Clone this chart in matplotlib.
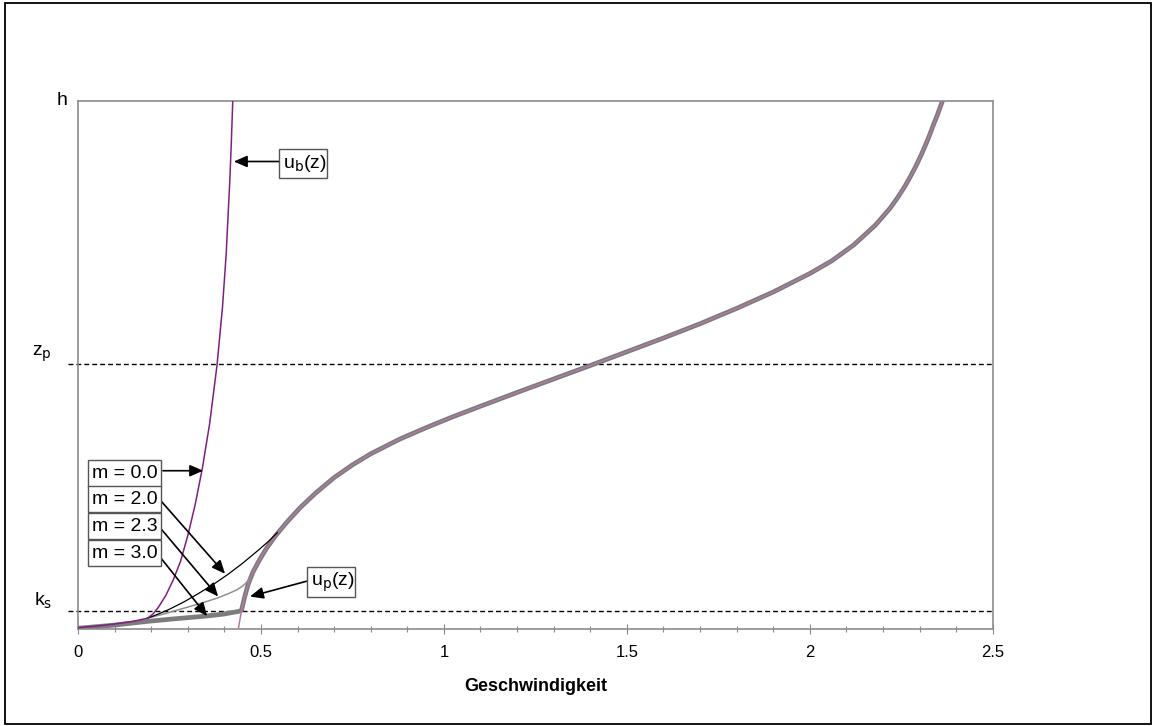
import numpy as np
import matplotlib
matplotlib.use("Agg")
import matplotlib.pyplot as plt
from matplotlib.patches import Rectangle
from matplotlib.transforms import blended_transform_factory

plt.rcParams['font.family'] = ['Liberation Sans', 'DejaVu Sans']

# profile values (z normalised to h = 1)
ub_x = [0.0, 0.05, 0.10, 0.15, 0.19, 0.205, 0.22, 0.24, 0.26, 0.28, 0.30, 0.32, 0.34,
        0.36, 0.38, 0.395, 0.40, 0.405, 0.41, 0.415, 0.419, 0.423]
ub_z = [0.003, 0.006, 0.010, 0.015, 0.021, 0.029, 0.042, 0.064, 0.093, 0.128, 0.177,
        0.235, 0.305, 0.39, 0.50, 0.61, 0.66, 0.71, 0.78, 0.85, 0.92, 1.0]

m20_x = [0.19, 0.22, 0.25, 0.29, 0.33, 0.37, 0.41, 0.45, 0.49, 0.52, 0.545]
m20_z = [0.021, 0.029, 0.038, 0.052, 0.068, 0.085, 0.104, 0.125, 0.148, 0.166, 0.183]

m23_x = [0.19, 0.24, 0.29, 0.34, 0.38, 0.41, 0.435, 0.45, 0.46, 0.468]
m23_z = [0.021, 0.030, 0.040, 0.050, 0.059, 0.067, 0.075, 0.082, 0.088, 0.095]

m30_x = [0.0, 0.10, 0.19, 0.25, 0.30, 0.35, 0.40, 0.44]
m30_z = [0.002, 0.008, 0.015, 0.019, 0.022, 0.025, 0.029, 0.034]

up_x = [0.447, 0.455, 0.465, 0.478, 0.495, 0.515, 0.54, 0.57, 0.607, 0.65, 0.70, 0.75,
        0.80, 0.88, 0.95, 1.017, 1.10, 1.20, 1.30, 1.40, 1.50, 1.60, 1.70, 1.80, 1.90,
        2.00, 2.06, 2.12, 2.18, 2.22, 2.24, 2.26, 2.275, 2.29, 2.305, 2.32, 2.33, 2.34,
        2.348, 2.355, 2.363]
up_z = [0.036, 0.06, 0.085, 0.108, 0.13, 0.153, 0.177, 0.202, 0.230, 0.258, 0.287, 0.311,
        0.332, 0.360, 0.381, 0.400, 0.422, 0.448, 0.4735, 0.499, 0.525, 0.551, 0.578, 0.607,
        0.638, 0.673, 0.697, 0.727, 0.765, 0.797, 0.8165, 0.838, 0.8565, 0.876, 0.898,
        0.922, 0.9395, 0.958, 0.9715, 0.985, 1.0]
up_foot = (0.438, 0.0)

z_p = 0.501
k_s = 0.034
y_labels = ['h', 'z$_\\mathrm{p}$', 'k$_\\mathrm{s}$']
x_ticks = [0, 0.5, 1, 1.5, 2, 2.5]
x_ticklabels = ['0', '0.5', '1', '1.5', '2', '2.5']
m_labels = ['m = 0.0', 'm = 2.0', 'm = 2.3', 'm = 3.0']

W, H = 1153, 726
fig = plt.figure(figsize=(W / 100, H / 100), dpi=100)
ax = fig.add_axes([78 / W, 1 - 629.3 / H, 914.7 / W, 528.6 / H])

purple = '#7e1f82'
mauve = '#b07ba3'
grey = '#7c7c7c'

# thick grey: m = 3.0 foot + u_p(z)
ax.plot(m30_x + up_x, m30_z + up_z, color=grey, lw=3.4, solid_capstyle='butt', zorder=2)
ax.plot([up_foot[0]] + up_x, [up_foot[1]] + up_z, color=mauve, lw=1.1, zorder=3)
ax.plot(m23_x, m23_z, color='#8f8f8f', lw=1.1, zorder=3)
ax.plot(m20_x, m20_z, color='black', lw=0.9, zorder=3)
ax.plot(ub_x, ub_z, color=purple, lw=1.1, zorder=4)

# reference heights
for zz in [z_p, k_s]:
    ax.axhline(zz, xmin=-0.011, xmax=1, color='black', lw=1.0,
               linestyle=(0, (3.5, 2.2)), clip_on=False, zorder=1)

ax.set_xlim(0, 2.5)
ax.set_ylim(0, 1)
ax.set_xticks(x_ticks)
ax.set_xticklabels(x_ticklabels, fontsize=12)
ax.set_xticks(np.arange(0, 2.51, 0.1), minor=True)
ax.tick_params(axis='x', which='major', direction='inout', length=7, width=0.8,
               color='#8c8c8c', pad=8)
ax.tick_params(axis='x', which='minor', direction='inout', length=5, width=0.8,
               color='#8c8c8c')
ax.set_yticks([])
for s in ax.spines.values():
    s.set_color('#8c8c8c')
    s.set_linewidth(1.2)
ax.set_xlabel('Geschwindigkeit', fontsize=13, fontweight='bold', labelpad=13)

trans = blended_transform_factory(fig.transFigure, ax.transData)
ax.text(68 / W, 1.0, y_labels[0], transform=trans, ha='right', va='center', fontsize=14)
ax.text(52 / W, z_p, y_labels[1], transform=trans, ha='right', va='bottom', fontsize=14)
ax.text(52 / W, k_s, y_labels[2], transform=trans, ha='right', va='bottom', fontsize=14)

# boxed labels with arrows
arrow = dict(arrowstyle='-|>,head_length=0.8,head_width=0.35', color='black', lw=1.2,
             shrinkA=0, shrinkB=0)
box_top = [0.320, 0.271, 0.220, 0.169]
box_h = 0.050
starts = [(0.232, 0.300), (0.224, 0.245), (0.227, 0.190), (0.224, 0.137)]
tips = [(0.342, 0.300), (0.402, 0.105), (0.383, 0.062), (0.353, 0.025)]
for lab, bt, st, tp in zip(m_labels, box_top, starts, tips):
    ax.add_patch(Rectangle((0.027, bt - box_h), 0.20, box_h, fc='white', ec='#555555',
                           lw=1.0, zorder=6))
    ax.text(0.038, bt - box_h / 2, lab, ha='left', va='center', fontsize=14, zorder=7)
    ax.annotate('', xy=tp, xytext=st, arrowprops=arrow, zorder=5)

ax.add_patch(Rectangle((0.549, 0.853), 0.132, 0.056, fc='white', ec='#555555', lw=1.0,
                       zorder=6))
ax.text(0.560, 0.881, 'u$_\\mathrm{b}$(z)', ha='left', va='center', fontsize=14, zorder=7)
ax.annotate('', xy=(0.426, 0.885), xytext=(0.549, 0.885), arrowprops=arrow, zorder=5)

ax.add_patch(Rectangle((0.625, 0.062), 0.132, 0.055, fc='white', ec='#555555', lw=1.0,
                       zorder=6))
ax.text(0.636, 0.0895, 'u$_\\mathrm{p}$(z)', ha='left', va='center', fontsize=14, zorder=7)
ax.annotate('', xy=(0.470, 0.062), xytext=(0.625, 0.091), arrowprops=arrow, zorder=5)

fig.patches.append(Rectangle((5 / W, 2 / H), (W - 7) / W, (H - 5) / H, transform=fig.transFigure,
                             fill=False, ec='black', lw=1.3))

fig.savefig('out.png', dpi=100)
